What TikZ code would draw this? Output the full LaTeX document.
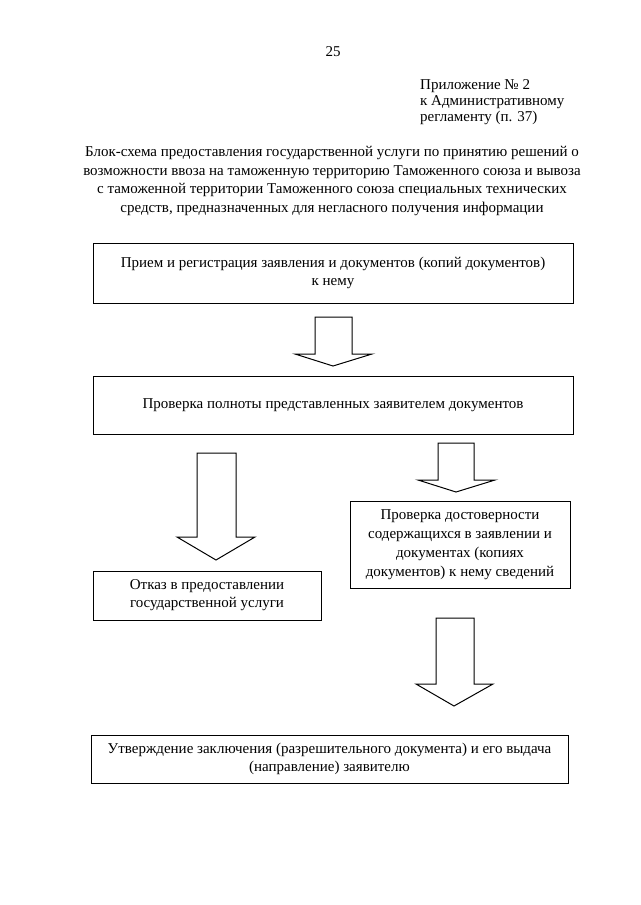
\documentclass[tikz,border=0pt]{standalone}
\usepackage{fontspec}
\setmainfont{Liberation Serif}
\begin{document}
\begin{tikzpicture}[x=1pt,y=-1pt,
  txt/.style={font=\fontsize{15}{18}\selectfont, inner sep=0pt, align=center},
  box/.style={draw, line width=1pt, inner sep=0pt, align=center, font=\fontsize{15}{18}\selectfont},
  barrow/.style={draw, line width=1pt, fill=white}]
\useasboundingbox (0,0) rectangle (640,905);
% page number and header
\node[txt] (pg) at (333,52) {25};
\node[txt, anchor=north west, align=left, font=\fontsize{15}{16}\selectfont] (hdr) at (420,79)
  {Приложение № 2\\к Административному\\регламенту (п. 37)};
\node[txt, font=\fontsize{15}{18.5}\selectfont] (title) at (332,181)
  {Блок-схема предоставления государственной услуги по принятию решений о\\
   возможности ввоза на таможенную территорию Таможенного союза и вывоза\\
   с таможенной территории Таможенного союза специальных технических\\
   средств, предназначенных для негласного получения информации};
% boxes
\node[box, minimum width=480, minimum height=60] (b1) at (333,273)
  {Прием и регистрация заявления и документов (копий документов)\\к нему};
\node[box, minimum width=480, minimum height=58] (b2) at (333,405)
  {\raisebox{-3pt}{Проверка полноты представленных заявителем документов}};
\node[box, minimum width=228, minimum height=49] (b3) at (207,595.5)
  {Отказ в предоставлении\\государственной услуги};
\node[box, minimum width=220, minimum height=87, font=\fontsize{15}{19}\selectfont] (b4) at (460,544.5)
  {Проверка достоверности\\содержащихся в заявлении и\\документах (копиях\\документов) к нему сведений};
\node[box, minimum width=477, minimum height=48] (b5) at (329.5,759)
  {Утверждение заключения (разрешительного документа) и его выдача\\(направление) заявителю};
% block arrows
\draw[barrow] (315,317) -- (352,317) -- (352,354) -- (372,354) -- (333,366) -- (295,354) -- (315,354) -- cycle;
\draw[barrow] (197,453) -- (236,453) -- (236,537) -- (255,537) -- (216,560) -- (177,537) -- (197,537) -- cycle;
\draw[barrow] (438,443) -- (474,443) -- (474,480) -- (495,480) -- (456,492) -- (418,480) -- (438,480) -- cycle;
\draw[barrow] (436,618) -- (474,618) -- (474,684) -- (493,684) -- (454,706) -- (416,684) -- (436,684) -- cycle;
\end{tikzpicture}
\end{document}
